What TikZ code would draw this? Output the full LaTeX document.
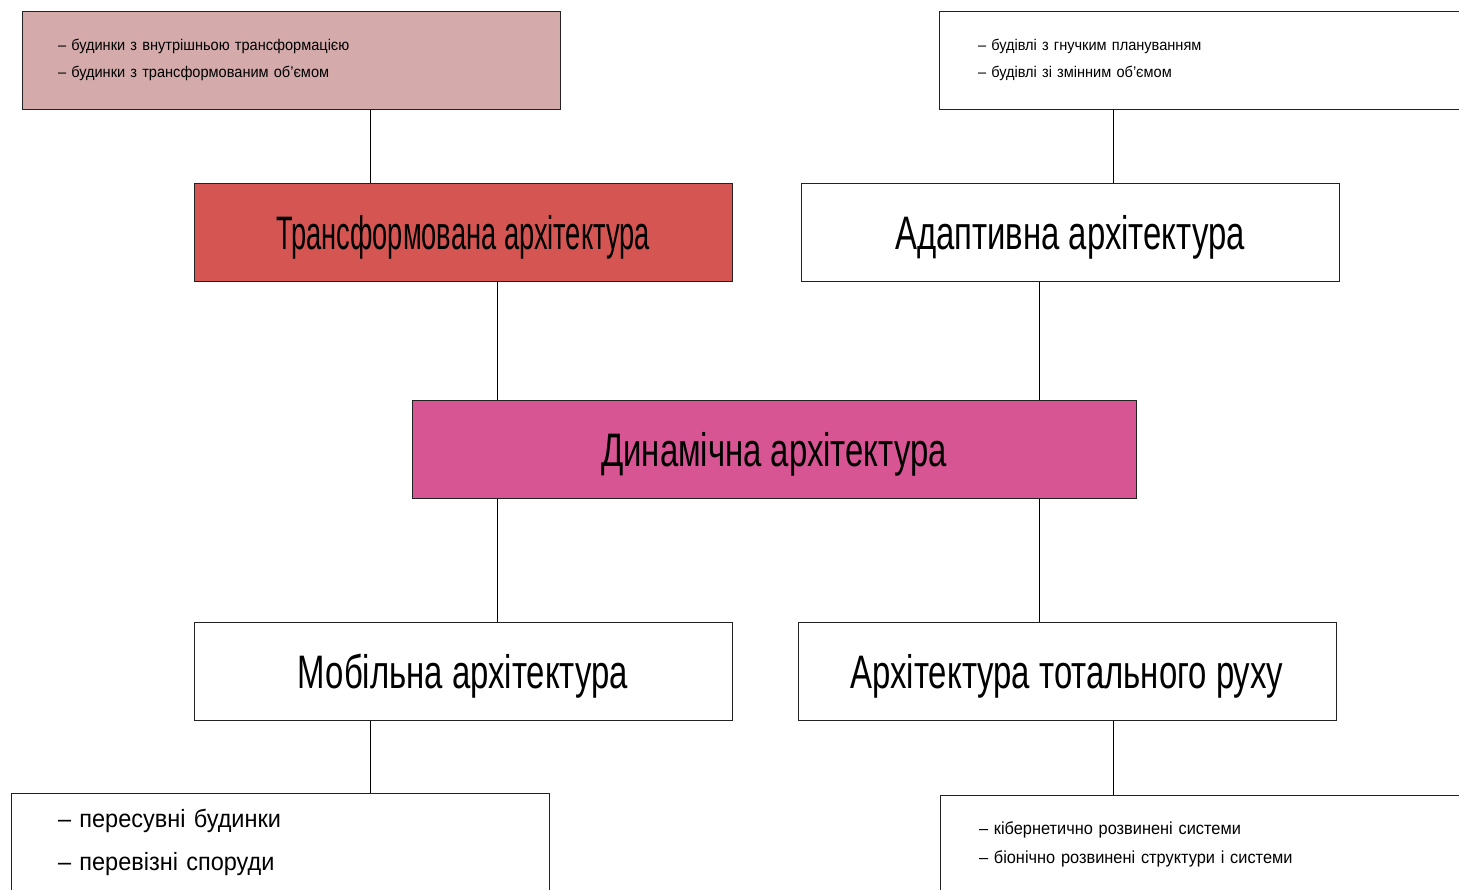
\documentclass[tikz,border=0pt]{standalone}
\usepackage{fontspec}
\setmainfont{Liberation Sans}
\newfontfamily\labelfont[FakeStretch=0.7]{Liberation Sans}
\newfontfamily\narrowlabelfont[FakeStretch=0.58]{Liberation Sans}
\newfontfamily\listfont[FakeStretch=0.94]{Liberation Sans}
\definecolor{dynpink}{HTML}{D65592}
\definecolor{trred}{HTML}{D45552}
\definecolor{trlight}{HTML}{D4AAAB}
\definecolor{boxedge}{HTML}{222222}

\begin{document}
\begin{tikzpicture}[x=1pt,y=-1pt,
 every node/.style={draw=boxedge,line width=1pt,minimum height=98pt,inner ysep=0pt},
 head/.style={minimum width=538pt,text height=34pt,text depth=0pt,font=\labelfont\fontsize{47}{50}\selectfont},
 note/.style={text width=460pt,inner xsep=39pt,align=left,font=\listfont\fontsize{15.5}{27}\selectfont},
 link/.style={line width=0.8pt}]
\clip (0,0) rectangle (1459,889);
% upper row: kinds of buildings
\node[note,fill=trlight,inner xsep=36pt,text width=466pt] (trlist) at (291,60) {– будинки з внутрішньою трансформацією\\– будинки з трансформованим об’ємом};
\node[note,fill=white] (adlist) at (1208,60) {– будівлі з гнучким плануванням\\– будівлі зі змінним об’ємом};
% main boxes
\node[head,fill=trred,font=\narrowlabelfont\fontsize{47}{50}\selectfont] (tra) at (463,232) {Трансформована архітектура};
\node[head,fill=white] (ada) at (1070,232) {Адаптивна архітектура};
\node[head,fill=dynpink,minimum width=724pt] (dyn) at (774,449.5) {Динамічна архітектура};
\node[head,fill=white] (mob) at (463,671) {Мобільна архітектура};
\node[head,fill=white] (tot) at (1067,671) {Архітектура тотального руху};
% lower row
\node[note,fill=white,inner xsep=47pt,text width=444pt,font=\listfont\fontsize{25}{43}\selectfont] (moblist) at (280,842) {– пересувні будинки\\– перевізні споруди};
\node[note,fill=white,font=\listfont\fontsize{17.4}{29}\selectfont] (totlist) at (1209,844) {– кібернетично розвинені системи\\– біонічно розвинені структури і системи};
% connectors
\draw[link] ([xshift=79pt]trlist.south) -- ([xshift=79pt]trlist.south |- tra.north);
\draw[link] ([xshift=-95pt]adlist.south) -- ([xshift=-95pt]adlist.south |- ada.north);
\draw[link] ([xshift=34pt]tra.south) -- ([xshift=34pt]tra.south |- dyn.north);
\draw[link] ([xshift=-31pt]ada.south) -- ([xshift=-31pt]ada.south |- dyn.north);
\draw[link] ([xshift=34pt]mob.north) -- ([xshift=34pt]mob.north |- dyn.south);
\draw[link] ([xshift=-28pt]tot.north) -- ([xshift=-28pt]tot.north |- dyn.south);
\draw[link] ([xshift=-93pt]mob.south) -- ([xshift=-93pt]mob.south |- moblist.north);
\draw[link] ([xshift=46pt]tot.south) -- ([xshift=46pt]tot.south |- totlist.north);
\end{tikzpicture}
\end{document}
